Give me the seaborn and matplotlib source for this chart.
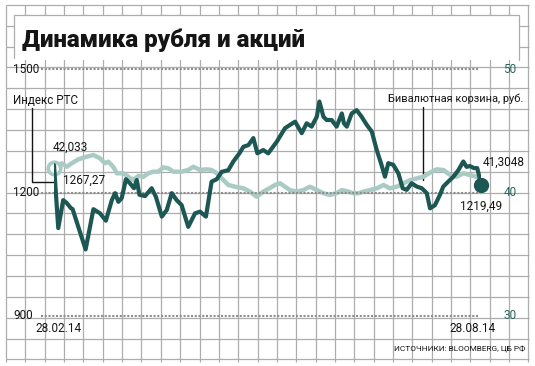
import matplotlib
matplotlib.use("Agg")
import matplotlib.pyplot as plt
import matplotlib.transforms as mtransforms
import numpy as np
import pandas as pd
import seaborn as sns

# ---------------- data ----------------
start_date = "2014-02-28"
end_date = "2014-08-28"

rts_days = [0, 1.8, 3.9, 5.4, 7.1, 7.9, 10.3, 13.4, 16.7, 19.5, 22.0, 24.5, 25.9, 27.3, 28.7,
            30.5, 32.2, 33.9, 35.1, 36.2, 38.6, 41.4, 43.2, 45.7, 47.8, 49.9, 52.0, 54.1,
            56.9, 59.8, 61.9, 64.4, 66.8, 69.0, 71.1, 73.9, 76.0, 78.6, 80.3, 82.4, 84.5,
            86.2, 88.7, 90.8, 94.4, 97.9, 100.0, 102.2, 105.0, 107.1, 109.2, 111.4, 112.5,
            114.2, 115.6, 117.7, 119.8, 122.0, 122.9, 124.1, 126.2, 128.3, 130.4, 132.6,
            134.7, 136.8, 138.6, 140.3, 141.7, 143.8, 146.0, 147.8, 149.5, 151.6, 153.8,
            155.9, 158.0, 159.4, 161.5, 163.6, 165.0, 167.1, 169.3, 171.4, 173.5, 174.9,
            176.3, 178.0, 179.4, 180.3, 181]
rts_values = [1267.27, 1114, 1182, 1175, 1163, 1160, 1117, 1062, 1160, 1150, 1132, 1182, 1199,
              1178, 1187, 1233, 1223, 1211, 1231, 1195, 1192, 1211, 1190, 1142, 1158, 1199,
              1182, 1170, 1117, 1150, 1154, 1142, 1227, 1233, 1251, 1255, 1276, 1296, 1312,
              1316, 1333, 1296, 1304, 1296, 1324, 1357, 1365, 1373, 1345, 1369, 1361, 1385,
              1422, 1385, 1377, 1377, 1361, 1393, 1369, 1361, 1393, 1401, 1385, 1365, 1349,
              1304, 1272, 1239, 1272, 1268, 1247, 1211, 1207, 1223, 1215, 1211, 1199, 1162,
              1170, 1195, 1215, 1227, 1239, 1255, 1276, 1263, 1265, 1260, 1260, 1239, 1219.49]

basket_days = [0, 3.3, 5.4, 7.5, 10.3, 13.9, 16.7, 19.5, 21.6, 23.0, 25.1, 26.6, 29.4, 31.5,
               33.6, 35.7, 37.9, 40.0, 42.1, 44.2, 46.3, 48.5, 50.6, 54.1, 56.9, 59.1, 61.9,
               64.7, 66.8, 69.0, 71.1, 73.9, 76.7, 80.3, 83.1, 85.9, 88.7, 91.3, 93.7, 95.8,
               97.9, 100.0, 102.8, 105.7, 108.5, 111.4, 114.2, 117.0, 119.8, 122.0, 124.8,
               126.9, 129.0, 131.2, 134.0, 136.8, 139.7, 142.4, 145.3, 148.1, 151.0, 153.8,
               156.6, 159.4, 162.2, 165.0, 167.9, 170.7, 173.5, 176.3, 179.1, 181]
basket_values = [42.033, 42.39, 42.11, 42.39, 42.71, 42.93, 43.06, 42.80, 42.39, 42.52, 42.11,
                 41.58, 41.58, 41.30, 41.03, 41.36, 41.30, 41.58, 41.71, 41.71, 42.06, 41.98,
                 41.71, 41.71, 41.85, 42.11, 41.85, 41.90, 41.85, 41.58, 41.17, 40.63, 40.49,
                 40.36, 40.09, 39.68, 40.09, 40.36, 40.63, 40.77, 40.49, 40.22, 40.09, 40.22,
                 40.49, 40.22, 39.96, 39.82, 39.96, 40.22, 40.09, 39.96, 39.96, 40.09, 40.22,
                 40.36, 40.63, 40.36, 40.49, 40.77, 41.03, 41.17, 41.30, 41.63, 41.90, 41.85,
                 41.44, 41.30, 41.58, 41.44, 41.30, 41.3048]

left_ticks = [900, 1200, 1500]
right_ticks = [30, 40, 50]
left_tick_labels = ["900", "1200", "1500"]
right_tick_labels = ["30", "40", "50"]
date_labels = ["28.02.14", "28.08.14"]

title = "Динамика рубля и акций"
rts_name = "Индекс РТС"
basket_name = "Бивалютная корзина, руб."
rts_first_label, rts_last_label = "1267,27", "1219,49"
basket_first_label, basket_last_label = "42,033", "41,3048"
source = "ИСТОЧНИКИ: BLOOMBERG, ЦБ РФ"

# ---------------- styling ----------------
sns.set_style("white")
FONT = ["Roboto", "DejaVu Sans"]
plt.rcParams["font.family"] = FONT

DARK = "#1d5753"
LIGHT = "#a9cbc3"
TEAL_TXT = "#2a625e"
GRID = "#adadad"
INK = "#151515"

W, H = 535, 366
fig = plt.figure(figsize=(W / 100, H / 100), dpi=100)
fig.patch.set_facecolor("white")
renderer = fig.canvas.get_renderer()


def fit(t, target_w):
    """scale the font size of text t so that it is target_w pixels wide"""
    w = t.get_window_extent(renderer).width
    if w > 0:
        t.set_fontsize(t.get_fontsize() * target_w / w)
    return t


# background (pixel coordinates) for the graph-paper decoration
bg = fig.add_axes([0, 0, 1, 1])
bg.set_xlim(0, W)
bg.set_ylim(H, 0)
bg.axis("off")

gx = 6 + 19.35 * np.arange(28)
gy = 4.9 + 20.85 * np.arange(18)
bg.vlines(gx, 4.9, 362, color=GRID, lw=0.9, zorder=0)
bg.hlines(gy, 6, 528.5, color=GRID, lw=0.9, zorder=0)
# title box
bg.add_patch(plt.Rectangle((14, 15), 505, 45, facecolor="white", edgecolor="none", zorder=1))
bg.plot([14, 14, 519, 519], [58, 15, 15, 60], color=GRID, lw=0.9, zorder=2,
        solid_joinstyle="miter")
tt = bg.text(22, 40, title, fontsize=17, fontweight="black", family=["Roboto", "DejaVu Sans"],
             color=INK, va="center", ha="left", zorder=3)
fit(tt, 283)

# data axes: x 54..481 px, y 316..69.5 px
dates_r = pd.to_datetime(start_date) + pd.to_timedelta(rts_days, unit="D")
dates_b = pd.to_datetime(start_date) + pd.to_timedelta(basket_days, unit="D")
x0, x1 = pd.to_datetime(start_date), pd.to_datetime(end_date)

axb = fig.add_axes([54 / W, 50 / H, 427 / W, 246.5 / H])
axb.patch.set_alpha(0)
axr = axb.twinx()
axr.patch.set_alpha(0)

# dotted reference lines
for v in left_ticks:
    axr.axhline(v, xmin=(41 - 54) / 427, xmax=(478 - 54) / 427, color="#8f8f8f",
                lw=1.5, ls=(0, (1.0, 0.8)), clip_on=False, zorder=1)

sns.lineplot(x=dates_b, y=basket_values, ax=axb, color=LIGHT, linewidth=3.2,
             legend=False, zorder=3)
sns.lineplot(x=dates_r, y=rts_values, ax=axr, color=DARK, linewidth=3.0,
             legend=False, zorder=4)
for ln in axb.lines + axr.lines:
    ln.set_solid_capstyle("round")
    ln.set_solid_joinstyle("round")

for a in (axb, axr):
    a.set_xlim(x0, x1)
    for s in a.spines.values():
        s.set_visible(False)
    a.set_xticks([])
    a.set_yticks([])
    a.set_xlabel("")
    a.set_ylabel("")
axb.set_ylim(30, 50)
axr.set_ylim(900, 1500)

# end-point markers
axr.plot([dates_r[-1]], [rts_values[-1]], "o", ms=10, color=DARK, zorder=6, clip_on=False)
axb.plot([dates_b[0]], [basket_values[0]], "o", ms=9, mfc="white", mec=LIGHT, mew=2.6,
         zorder=3, clip_on=False)

FS = 8.5
# tick labels
tl = mtransforms.blended_transform_factory(bg.transData, axr.transData)
for v, s in zip(left_ticks, left_tick_labels):
    bg.text(13, v, s, transform=tl, fontsize=FS, color=INK, ha="left", va="center", zorder=5)
tr = mtransforms.blended_transform_factory(bg.transData, axb.transData)
for v, s in zip(right_ticks, right_tick_labels):
    bg.text(510, v, s, transform=tr, fontsize=FS, color=TEAL_TXT, ha="center", va="center",
            zorder=5)

# date labels
bg.text(59, 329, date_labels[0], fontsize=FS, ha="center", va="center", color=INK)
bg.text(472, 329, date_labels[1], fontsize=FS, ha="center", va="center", color=INK)

# series names & leader lines
t1 = bg.text(13, 100, rts_name, fontsize=FS, ha="left", va="center", color=INK)
fit(t1, 65)
t2 = bg.text(523, 99, basket_name, fontsize=FS, ha="right", va="center", color=INK)
fit(t2, 134)
bg.plot([31.7, 31.7, 54], [108, 181.5, 181.5], color=INK, lw=1.0, zorder=4)
bg.plot([423, 423], [107, 180], color=INK, lw=1.0, zorder=4)

# value labels
bg.text(53, 147, basket_first_label, fontsize=FS, ha="left", va="center", color=INK)
bg.text(63, 180, rts_first_label, fontsize=FS, ha="left", va="center", color=INK)
bg.text(483, 162, basket_last_label, fontsize=FS, ha="left", va="center", color=INK)
bg.text(460, 206, rts_last_label, fontsize=FS, ha="left", va="center", color=INK)

# source
ts = bg.text(525, 349, source, fontsize=7, ha="right", va="center", color=INK)
fit(ts, 133)

fig.savefig("out.png", dpi=100, facecolor="white")
